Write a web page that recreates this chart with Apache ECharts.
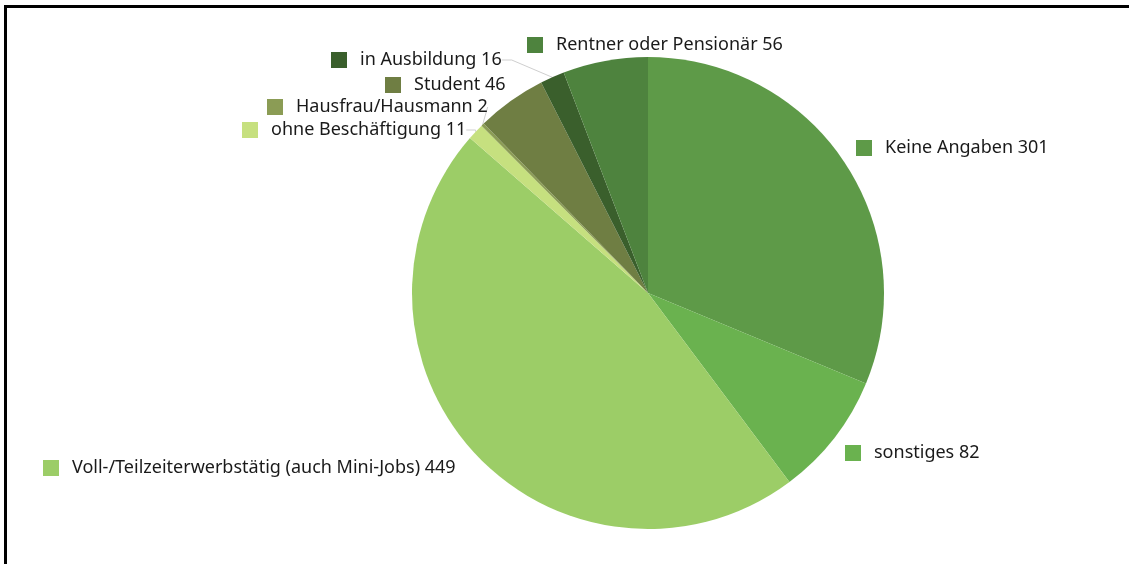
<!DOCTYPE html>
<html>
<head>
<meta charset="utf-8">
<script src="https://cdn.jsdelivr.net/npm/echarts@6/dist/echarts.min.js"></script>
<style>
  html, body { margin: 0; padding: 0; background: #fff; }
  #chart { position: absolute; left: 0; top: 0; width: 1129px; height: 564px; }
  #frame { position: absolute; left: 4px; top: 5px; width: 1140px; height: 600px;
           border-left: 3px solid #000; border-top: 3px solid #000; pointer-events: none; }
</style>
</head>
<body>
<div id="chart"></div>
<div id="frame"></div>
<script>
// Data
const categories = [
  'Keine Angaben',
  'sonstiges',
  'Voll-/Teilzeiterwerbstätig (auch Mini-Jobs)',
  'ohne Beschäftigung',
  'Hausfrau/Hausmann',
  'Student',
  'in Ausbildung',
  'Rentner oder Pensionär'
];
const values = [301, 82, 449, 11, 2, 46, 16, 56];

// Styles
const colors = ['#5e9a48', '#6ab24f', '#9ccd67', '#c6e07f', '#8b9c55', '#6f7e43', '#3a5f2c', '#4e833e'];
const showLeader = [false, false, false, true, true, false, true, false];
// label anchor (marker left edge, vertical centre) in pixels
const labelAnchors = [
  [856, 148], [845, 453], [43, 468], [242, 130],
  [267, 107], [385, 85], [331, 60], [527, 45]
];

const data = categories.map((name, i) => ({
  name: name,
  value: values[i],
  itemStyle: { color: colors[i] },
  label: {
    rich: {
      sq: { width: 16, height: 16, backgroundColor: colors[i] },
      t: { fontFamily: 'Noto Sans', fontSize: 18, color: '#1a1a1a', padding: [0, 0, 0, 13] }
    }
  },
  labelLine: { show: showLeader[i] }
}));

const chart = echarts.init(document.getElementById('chart'), null, { renderer: 'canvas' });
chart.setOption({
  animation: false,
  backgroundColor: '#fff',
  series: [{
    type: 'pie',
    center: [648, 293],
    radius: 236,
    startAngle: 90,
    clockwise: true,
    avoidLabelOverlap: false,
    itemStyle: { borderWidth: 0 },
    label: {
      show: true,
      position: 'outside',
      formatter: p => '{sq|}{t|' + p.name + ' ' + p.value + '}'
    },
    labelLine: {
      length: 10, length2: 10,
      lineStyle: { color: '#cfcfcf', width: 1 }
    },
    labelLayout: function (params) {
      const a = labelAnchors[params.dataIndex];
      return { x: a[0], y: a[1], align: 'left', verticalAlign: 'middle' };
    },
    emphasis: { disabled: true },
    data: data
  }]
});
</script>
</body>
</html>
